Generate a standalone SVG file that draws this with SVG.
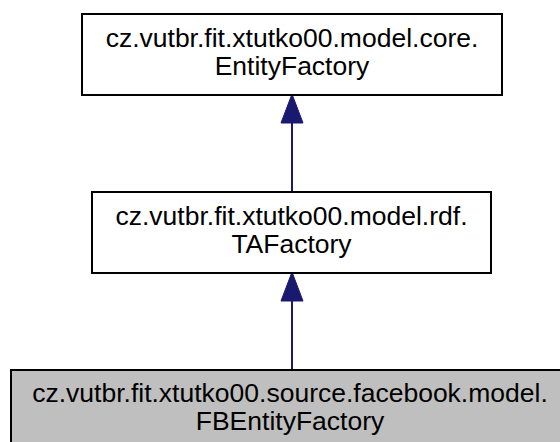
<svg xmlns="http://www.w3.org/2000/svg" width="560" height="442" viewBox="0 0 560 442">
<style>
.box{fill:#ffffff;stroke:#000000;stroke-width:2}
.cur{fill:#bfbfbf;stroke:#000000;stroke-width:2}
.lbl{font-family:"Liberation Sans",Arial,sans-serif;font-size:26.5px;fill:#000000;text-anchor:middle}
.edge{stroke:#191970;stroke-width:2;fill:none}
.head{fill:#191970;stroke:#191970;stroke-width:1}
</style>
<rect x="0" y="0" width="560" height="442" fill="#ffffff"/>
<g id="edges">
<line class="edge" x1="292" y1="192" x2="292" y2="122"/>
<polygon class="head" points="292,94 281,123 303,123"/>
<line class="edge" x1="292" y1="370" x2="292" y2="300"/>
<polygon class="head" points="292,272 281,301 303,301"/>
</g>
<g id="node_core">
<rect class="box" x="82" y="14" width="420" height="81"/>
<text class="lbl" x="292" y="47">cz.vutbr.fit.xtutko00.model.core.</text>
<text class="lbl" x="292" y="75">EntityFactory</text>
</g>
<g id="node_rdf">
<rect class="box" x="92" y="192" width="399" height="81"/>
<text class="lbl" x="291.5" y="225">cz.vutbr.fit.xtutko00.model.rdf.</text>
<text class="lbl" x="291.5" y="253">TAFactory</text>
</g>
<g id="node_fb">
<rect class="cur" x="11" y="370" width="560" height="81"/>
<text class="lbl" x="290" y="402">cz.vutbr.fit.xtutko00.source.facebook.model.</text>
<text class="lbl" x="290" y="430">FBEntityFactory</text>
</g>
</svg>
